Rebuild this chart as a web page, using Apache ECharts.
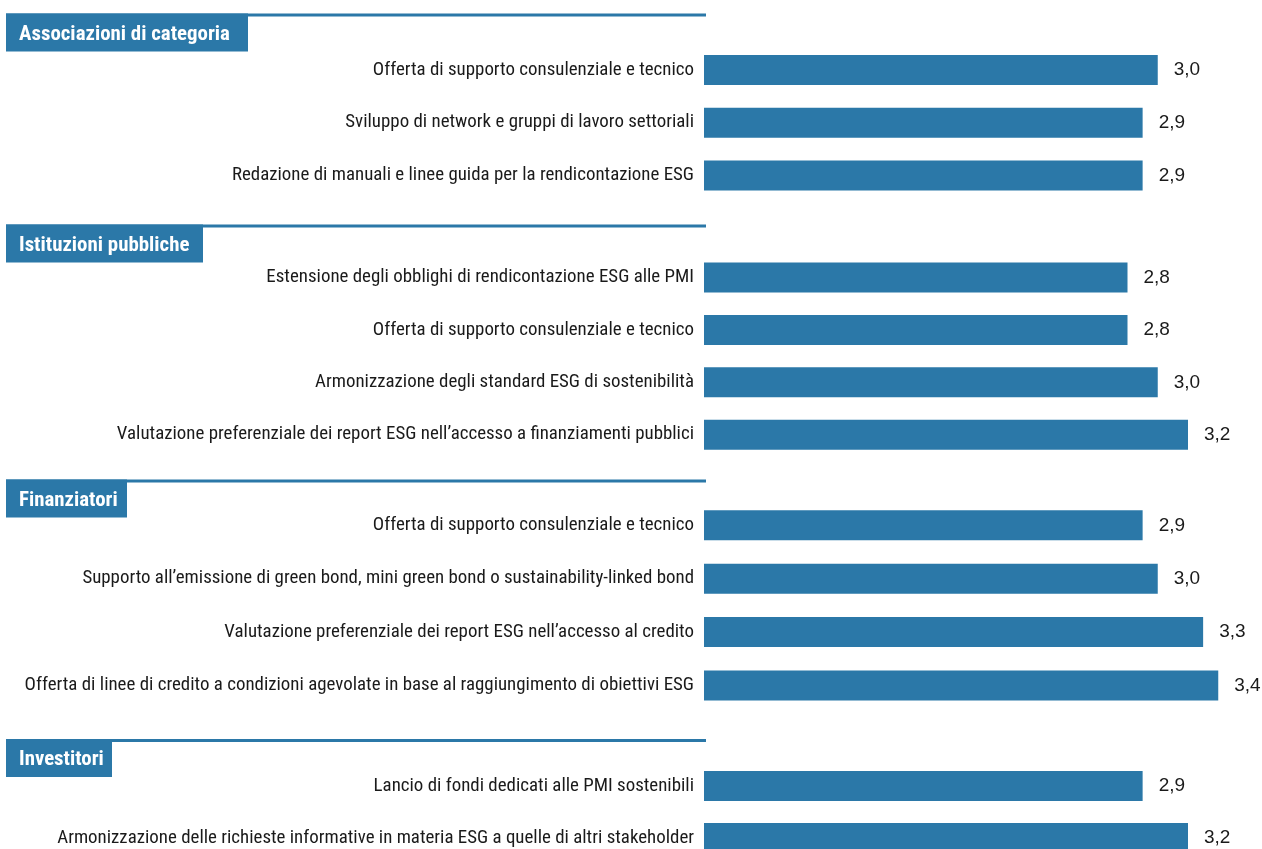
<!DOCTYPE html>
<html>
<head>
<meta charset="utf-8">
<script src="https://cdn.jsdelivr.net/npm/echarts@6/dist/echarts.min.js"></script>
<style>
  html, body { margin: 0; padding: 0; background: #ffffff; }
  #chart { width: 1262px; height: 849px; }
</style>
</head>
<body>
<div id="chart"></div>
<script>
// ---- Data ----
const groupNames = ['Associazioni di categoria', 'Istituzioni pubbliche', 'Finanziatori', 'Investitori'];

const catsAssociazioni = [
  'Offerta di supporto consulenziale e tecnico',
  'Sviluppo di network e gruppi di lavoro settoriali',
  'Redazione di manuali e linee guida per la rendicontazione ESG'
];
const valsAssociazioni = [3.0, 2.9, 2.9];

const catsIstituzioni = [
  'Estensione degli obblighi di rendicontazione ESG alle PMI',
  'Offerta di supporto consulenziale e tecnico',
  'Armonizzazione degli standard ESG di sostenibilità',
  'Valutazione preferenziale dei report ESG nell\u2019accesso a finanziamenti pubblici'
];
const valsIstituzioni = [2.8, 2.8, 3.0, 3.2];

const catsFinanziatori = [
  'Offerta di supporto consulenziale e tecnico',
  'Supporto all\u2019emissione di green bond, mini green bond o sustainability-linked bond',
  'Valutazione preferenziale dei report ESG nell\u2019accesso al credito',
  'Offerta di linee di credito a condizioni agevolate in base al raggiungimento di obiettivi ESG'
];
const valsFinanziatori = [2.9, 3.0, 3.3, 3.4];

const catsInvestitori = [
  'Lancio di fondi dedicati alle PMI sostenibili',
  'Armonizzazione delle richieste informative in materia ESG a quelle di altri stakeholder'
];
const valsInvestitori = [2.9, 3.2];

// ---- Layout (not data) ----
const groupCats = [catsAssociazioni, catsIstituzioni, catsFinanziatori, catsInvestitori];
const groupVals = [valsAssociazioni, valsIstituzioni, valsFinanziatori, valsInvestitori];
const gridTop = [43.6, 251.3, 498.6, 760];
const rowStep = [52.75, 52.4, 53.4, 52];
const headerLineY = [15, 226, 481, 740.5];
const headerBoxW = [242, 197, 121, 106];
const headerBoxH = 38;

const BLUE = '#2B78A8';
const TEXT = '#1a1a1a';

// choose an installed condensed face and size it to the reference text widths
const ctx = document.createElement('canvas').getContext('2d');
function w(font, s) { ctx.font = font; return ctx.measureText(s).width; }
const probe = 'Offerta di supporto consulenziale e tecnico mmmwwwiii';
function available(fam) {
  return ['monospace', 'serif'].every(fb =>
    Math.abs(w('40px "' + fam + '", ' + fb, probe) - w('40px ' + fb, probe)) > 0.5);
}
const candidates = ['Liberation Sans Narrow', 'Arial Narrow', 'Roboto Condensed', 'Open Sans Condensed',
  'Noto Sans Condensed', 'DejaVu Sans Condensed', 'Liberation Sans'];
const avail = candidates.filter(available);
const fam = avail[0] || 'Liberation Sans';
const FAMILY = '"' + fam + '", sans-serif';
const refLabel = 'Offerta di supporto consulenziale e tecnico';
const longLabel = catsFinanziatori[3];
let labelSize = Math.min(20 * 335 / w('20px ' + FAMILY, refLabel), 20 * 670 / w('20px ' + FAMILY, longLabel));
labelSize = Math.max(15, Math.min(21, labelSize));
let headSize = 20 * 211 / w('bold 20px ' + FAMILY, 'Associazioni di categoria');
headSize = Math.max(15, Math.min(21, headSize));

const grids = [], xAxes = [], yAxes = [], series = [], graphics = [];

groupCats.forEach((cats, i) => {
  grids.push({ left: 704, width: 605, top: gridTop[i], height: rowStep[i] * cats.length,
    containLabel: false, outerBoundsMode: 'none' });
  xAxes.push({ gridIndex: i, type: 'value', min: 0, max: 4, show: false });
  yAxes.push({
    gridIndex: i, type: 'category', data: cats, inverse: true,
    axisLine: { show: false }, axisTick: { show: false }, splitLine: { show: false },
    axisLabel: { margin: 10, color: TEXT, fontSize: labelSize, fontFamily: FAMILY, padding: [3, 0, 0, 0] }
  });
  series.push({
    type: 'bar', xAxisIndex: i, yAxisIndex: i, data: groupVals[i],
    barWidth: 30, itemStyle: { color: BLUE }, silent: true,
    label: {
      show: true, position: 'right', distance: 16, color: TEXT,
      fontSize: 19, fontFamily: '"Liberation Sans", Arial, sans-serif',
      formatter: p => p.value.toFixed(1).replace('.', ',')
    }
  });
  graphics.push({
    type: 'line', shape: { x1: 6, y1: headerLineY[i], x2: 706, y2: headerLineY[i] },
    style: { stroke: BLUE, lineWidth: 3 }
  });
  graphics.push({
    type: 'rect', shape: { x: 6, y: headerLineY[i] - 1.5, width: headerBoxW[i], height: headerBoxH },
    style: { fill: BLUE }
  });
  graphics.push({
    type: 'text', x: 19, y: headerLineY[i] + headerBoxH / 2 + 0.5,
    style: {
      text: groupNames[i], fill: '#ffffff', font: 'bold ' + headSize.toFixed(2) + 'px ' + FAMILY,
      verticalAlign: 'middle', align: 'left'
    }
  });
});

const chart = echarts.init(document.getElementById('chart'), null, { renderer: 'canvas' });
chart.setOption({
  animation: false,
  backgroundColor: '#ffffff',
  grid: grids,
  xAxis: xAxes,
  yAxis: yAxes,
  series: series,
  graphic: graphics
});
</script>
</body>
</html>
